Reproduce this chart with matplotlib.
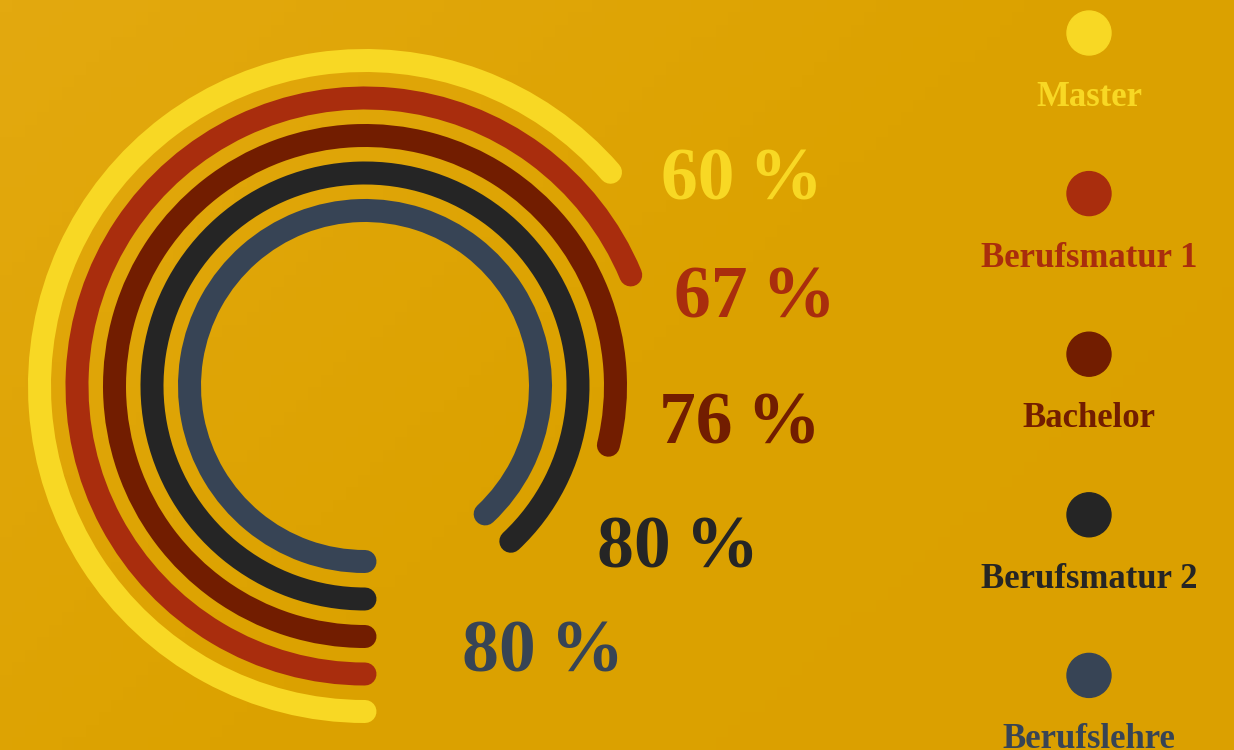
import numpy as np
import matplotlib
matplotlib.use("Agg")
import matplotlib.pyplot as plt
from matplotlib.patches import Arc, Circle
from matplotlib.colors import LinearSegmentedColormap

# ---------------------------------------------------------------- data
CATEGORIES = ["Master", "Berufsmatur 1", "Bachelor", "Berufsmatur 2", "Berufslehre"]
LABEL_VALUES = [60, 67, 76, 80, 80]            # printed percentages
ARC_SHARE = [63.6, 68.7, 78.8, 88.0, 88.0]     # share of a full turn the arc covers
COLORS = ["#f8d824", "#a92d0d", "#721d00", "#252525", "#374455"]

# ---------------------------------------------------------------- layout (pixels)
W, H = 1234, 750
CX, CY = 365, 386
R_OUT, R_STEP = 325.5, 37.5
LW_PT = 23 * 0.72
LABEL_POS = [(742, 199), (755, 318), (740, 444), (678, 568), (543, 672)]
LEG_X, LEG_Y0, LEG_DY = 1089, 33, 160.6

fig = plt.figure(figsize=(W / 100, H / 100), dpi=100)
ax = fig.add_axes([0, 0, 1, 1])
ax.set_xlim(0, W)
ax.set_ylim(H, 0)
ax.axis("off")

# subtle background gradient, lighter top-left
yy, xx = np.mgrid[0:1:60j, 0:1:100j]
grad = (xx * 0.6 + yy * 0.4)
cmap = LinearSegmentedColormap.from_list("bg", ["#e3a90f", "#dca200", "#dba000"])
ax.imshow(grad, extent=(0, W, H, 0), cmap=cmap, aspect="auto", zorder=0)

for i, (name, share, col) in enumerate(zip(CATEGORIES, ARC_SHARE, COLORS)):
    r = R_OUT - i * R_STEP
    sweep = share / 100 * 360
    # y axis is inverted: theta=90 is the bottom, increasing theta runs clockwise on screen
    arc = Arc((CX, CY), 2 * r, 2 * r, theta1=90, theta2=90 + sweep,
              color=col, lw=LW_PT, capstyle="round", zorder=2)
    ax.add_patch(arc)

    lx, ly = LABEL_POS[i]
    ax.text(lx, ly, f"{LABEL_VALUES[i]}\u2009%", color=col, fontsize=53,
            fontweight="bold", family=["Liberation Serif", "DejaVu Serif"],
            ha="center", va="baseline", zorder=3)

    y = LEG_Y0 + i * LEG_DY
    ax.add_patch(Circle((LEG_X, y), 22, color=col, zorder=3))
    ax.text(LEG_X, y + 73, name, color=col, fontsize=25, fontweight="bold",
            family=["Liberation Serif", "DejaVu Serif"], ha="center", va="baseline",
            zorder=3)

fig.savefig("out.png", dpi=100)
